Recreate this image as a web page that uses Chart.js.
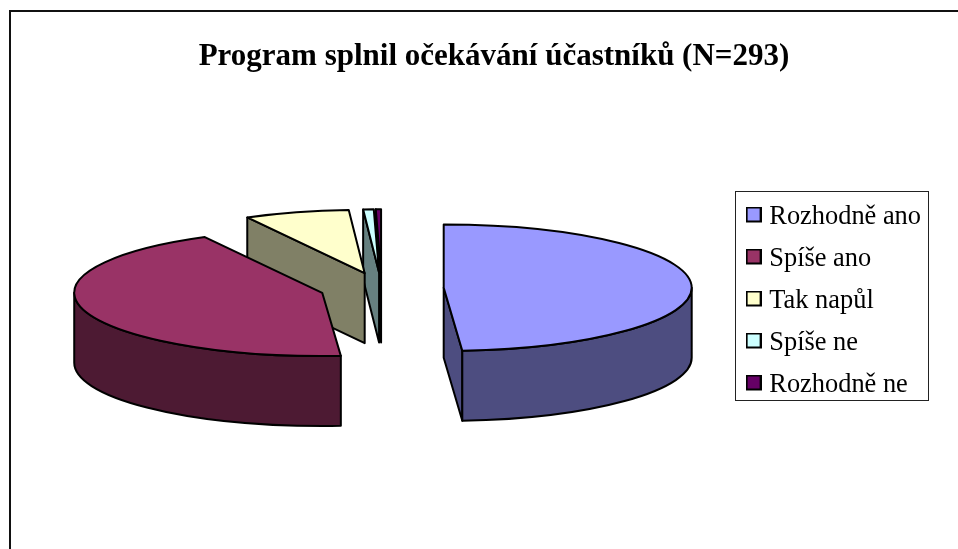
<!DOCTYPE html>
<html>
<head>
<meta charset="utf-8">
<style>
html,body{margin:0;padding:0;background:#fff;}
#wrap{position:relative;width:958px;height:549px;overflow:hidden;}
</style>
<script src="https://cdn.jsdelivr.net/npm/chart.js@4"></script>
</head>
<body>
<div id="wrap"><canvas id="c" width="958" height="549"></canvas></div>
<script>
const categories = ["Rozhodně ano", "Spíše ano", "Tak napůl", "Spíše ne", "Rozhodně ne"];
const counts = [143, 127, 20, 2, 1];
const topColors = ["#9999ff", "#993366", "#ffffcc", "#ccffff", "#660066"];
const wallColors = ["#4d4d80", "#4d1a33", "#808066", "#668080", "#330033"];
const titleText = "Program splnil očekávání účastníků (N=293)";

const SERIF = '"Liberation Serif","Times New Roman",serif';
const SQUASH = 0.255, EXPLODE = 62, DEPTH = 70, RADIUS = 248;
const LEGEND_BOX = {left: 735, top: 191, right: 928, bottom: 400};

function sliceGeom(chart) {
  const cy = (chart.chartArea.top + chart.chartArea.bottom) / 2;
  return chart.getDatasetMeta(0).data.map(a => ({
    x: a.x, y: cy + (a.y - cy) * SQUASH, rx: a.outerRadius, ry: a.outerRadius * SQUASH,
    s: a.startAngle, e: a.endAngle
  }));
}
function pointOn(g, t) { return [g.x + g.rx * Math.cos(t), g.y + g.ry * Math.sin(t)]; }

function swatch(color) {
  const c = document.createElement('canvas');
  c.width = 16; c.height = 22;
  const x = c.getContext('2d');
  x.fillStyle = color;
  x.strokeStyle = '#000';
  x.lineWidth = 2;
  x.fillRect(1, 1, 14, 14);
  x.strokeRect(1, 1, 14, 14);
  return c;
}

const pie3d = {
  id: 'pie3d',
  beforeDraw(chart) {
    const ctx = chart.ctx;
    ctx.save();
    ctx.fillStyle = '#fff';
    ctx.fillRect(0, 0, chart.width, chart.height);
    ctx.strokeStyle = '#111';
    ctx.lineWidth = 2;
    ctx.beginPath();
    ctx.moveTo(10, chart.height + 2);
    ctx.lineTo(10, 11);
    ctx.lineTo(chart.width + 2, 11);
    ctx.stroke();
    ctx.restore();
  },
  afterLayout(chart) {
    const l = chart.legend;
    l.left = LEGEND_BOX.left + 0.5;
    l.right = LEGEND_BOX.right;
    l.top = LEGEND_BOX.top - 24;
    l.bottom = LEGEND_BOX.bottom + 36;
    l.width = l.right - l.left;
    l.height = l.bottom - l.top;
    chart.titleBlock.left += 14.5;
    chart.titleBlock.right += 14.5;
  },
  afterDatasetsUpdate(chart) {
    chart.getDatasetMeta(0).data.forEach(a => {
      const mid = (a.startAngle + a.endAngle) / 2;
      a.x += Math.cos(mid) * EXPLODE;
      a.y += Math.sin(mid) * EXPLODE;
    });
  },
  beforeDatasetsDraw(chart) {
    const ctx = chart.ctx;
    const geoms = sliceGeom(chart);
    ctx.save();
    ctx.lineWidth = 2;
    ctx.lineJoin = 'round';
    ctx.strokeStyle = '#000';
    for (let i = geoms.length - 1; i >= 0; i--) {
      const g = geoms[i];
      ctx.fillStyle = wallColors[i];
      [[g.s, -Math.cos(g.s)], [g.e, Math.cos(g.e)]].forEach(([t, facing]) => {
        if (facing <= 1e-6) return;
        const p = pointOn(g, t);
        ctx.beginPath();
        ctx.moveTo(g.x, g.y);
        ctx.lineTo(p[0], p[1]);
        ctx.lineTo(p[0], p[1] + DEPTH);
        ctx.lineTo(g.x, g.y + DEPTH);
        ctx.closePath();
        ctx.fill();
        ctx.stroke();
      });
      const a = Math.max(g.s, 0), b = Math.min(g.e, Math.PI);
      if (b > a) {
        ctx.beginPath();
        ctx.ellipse(g.x, g.y, g.rx, g.ry, 0, a, b);
        ctx.ellipse(g.x, g.y + DEPTH, g.rx, g.ry, 0, b, a, true);
        ctx.closePath();
        ctx.fill();
        ctx.stroke();
      }
    }
    ctx.restore();
    const cy = (chart.chartArea.top + chart.chartArea.bottom) / 2;
    ctx.save();
    ctx.translate(0, cy);
    ctx.scale(1, SQUASH);
    ctx.translate(0, -cy);
  },
  afterDatasetsDraw(chart) {
    const ctx = chart.ctx;
    ctx.restore();
    ctx.save();
    ctx.lineWidth = 2;
    ctx.lineJoin = 'round';
    ctx.strokeStyle = '#000';
    sliceGeom(chart).forEach(g => {
      ctx.beginPath();
      ctx.moveTo(g.x, g.y);
      ctx.ellipse(g.x, g.y, g.rx, g.ry, 0, g.s, g.e);
      ctx.closePath();
      ctx.stroke();
    });
    ctx.restore();
    ctx.save();
    ctx.strokeStyle = '#222';
    ctx.lineWidth = 1;
    ctx.strokeRect(LEGEND_BOX.left + .5, LEGEND_BOX.top + .5,
      LEGEND_BOX.right - LEGEND_BOX.left, LEGEND_BOX.bottom - LEGEND_BOX.top);
    ctx.restore();
  }
};

new Chart(document.getElementById('c'), {
  type: 'pie',
  data: {
    labels: categories,
    datasets: [{
      data: counts,
      backgroundColor: topColors,
      borderWidth: 0,
      clip: false
    }]
  },
  options: {
    responsive: false,
    animation: false,
    radius: RADIUS,
    layout: {padding: {left: 2, right: 1, top: 0, bottom: 54}},
    plugins: {
      tooltip: {enabled: false},
      title: {
        display: true,
        text: titleText,
        color: '#000',
        font: {family: SERIF, size: 31, weight: 'bold'},
        padding: {top: 38.5, bottom: 6}
      },
      legend: {
        position: 'right',
        labels: {
          color: '#000',
          font: {family: SERIF, size: 26.4},
          usePointStyle: true,
          pointStyleWidth: 5,
          boxHeight: 13,
          padding: 15.6,
          generateLabels(chart) {
            return Chart.overrides.pie.plugins.legend.labels.generateLabels(chart).map((item, i) => ({
              ...item, lineWidth: 0, pointStyle: swatch(topColors[i])
            }));
          }
        }
      }
    }
  },
  plugins: [pie3d]
});
</script>
</body>
</html>
